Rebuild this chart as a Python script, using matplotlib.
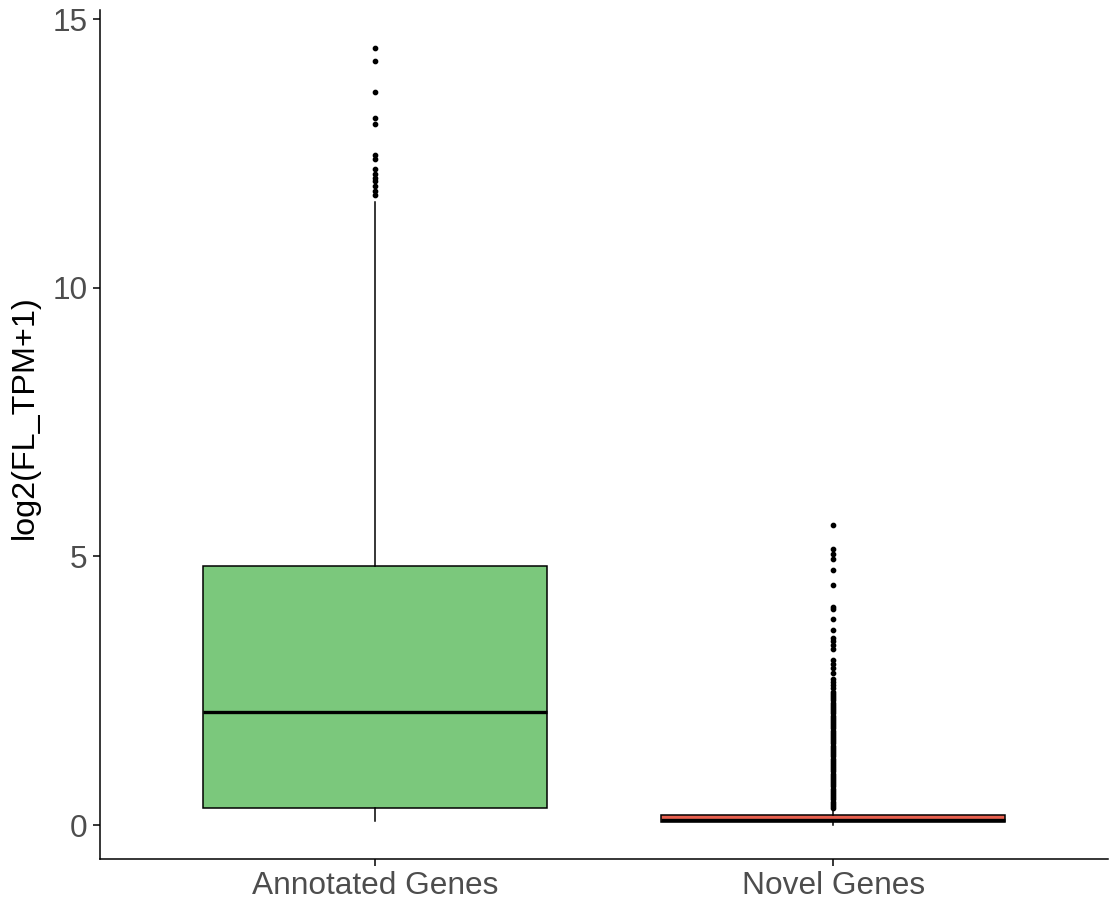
#!/usr/bin/env python3
import matplotlib

matplotlib.use("Agg")
import matplotlib.pyplot as plt

# Categorie e statistiche del boxplot
categories = ["Annotated Genes", "Novel Genes"]
fill_colors = ["#7BC87C", "#E8604F"]

q1 = [0.31, 0.06]
median = [2.10, 0.10]
q3 = [4.83, 0.18]
whisker_low = [0.07, 0.01]
whisker_high = [11.60, 0.27]

# Outlier: geni annotati
annotated_outliers = [14.47, 14.22, 13.65, 13.16, 13.05, 12.47, 12.40, 12.22,
                      12.12, 12.05, 11.98, 11.90, 11.80, 11.72]

# Outlier: geni nuovi
novel_outliers = [5.58, 5.13, 5.05, 4.96, 4.74, 4.46, 4.06, 4.02, 3.83, 3.64,
                  3.49, 3.42, 3.35, 3.28, 3.07, 3.00, 2.93, 2.83, 2.72, 2.66,
                  2.60, 2.55, 2.48, 2.44, 2.40, 2.36, 2.32, 2.28, 2.24, 2.20,
                  2.16, 2.12, 2.08, 2.04, 2.00, 1.96, 1.92, 1.88, 1.84, 1.80,
                  1.76, 1.72, 1.68, 1.64, 1.60, 1.56, 1.52, 1.48, 1.44, 1.40,
                  1.36, 1.32, 1.28, 1.24, 1.20, 1.16, 1.12, 1.08, 1.04, 1.00,
                  0.96, 0.92, 0.88, 0.84, 0.80, 0.76, 0.72, 0.68, 0.64, 0.60,
                  0.56, 0.52, 0.48, 0.44, 0.40, 0.36, 0.32]

y_ticks = [0, 5, 10, 15]
y_label = "log2(FL_TPM+1)"

plt.rcParams["font.family"] = ["Liberation Sans", "DejaVu Sans"]


def main():
    fig = plt.figure(figsize=(11.15, 9.01), dpi=100)
    ax = fig.add_axes([100 / 1115, 1 - 859 / 901, 1008 / 1115, 849 / 901])

    outliers = [annotated_outliers, novel_outliers]
    stats = []
    for i, name in enumerate(categories):
        stats.append({
            "label": name,
            "q1": q1[i],
            "med": median[i],
            "q3": q3[i],
            "whislo": whisker_low[i],
            "whishi": whisker_high[i],
            "fliers": outliers[i],
        })

    bp = ax.bxp(
        stats,
        positions=[1, 2],
        widths=0.75,
        patch_artist=True,
        showcaps=False,
        boxprops=dict(edgecolor="black", linewidth=1.1),
        medianprops=dict(color="black", linewidth=2.4),
        whiskerprops=dict(color="black", linewidth=1.1),
        flierprops=dict(marker="o", markersize=3.1, markerfacecolor="black",
                        markeredgecolor="black", linestyle="none"),
    )
    for patch, col in zip(bp["boxes"], fill_colors):
        patch.set_facecolor(col)

    ax.set_xlim(0.4, 2.6)
    ax.set_ylim(-0.63, 15.17)
    ax.set_yticks(y_ticks)
    ax.set_xticks([1, 2])
    ax.set_xticklabels(categories)

    # Stile tipo theme_classic
    for side in ["top", "right"]:
        ax.spines[side].set_visible(False)
    for side in ["left", "bottom"]:
        ax.spines[side].set_linewidth(1.1)
    ax.tick_params(axis="both", length=5, width=1.1, colors="black",
                   labelsize=22.8, labelcolor="#4D4D4D", pad=4)
    ax.set_ylabel(y_label, fontsize=23.3)
    ax.yaxis.set_label_coords(-0.06, 0.52)

    fig.savefig("out.png", dpi=100)
    plt.close(fig)
    return 0


if __name__ == "__main__":
    raise SystemExit(main())
